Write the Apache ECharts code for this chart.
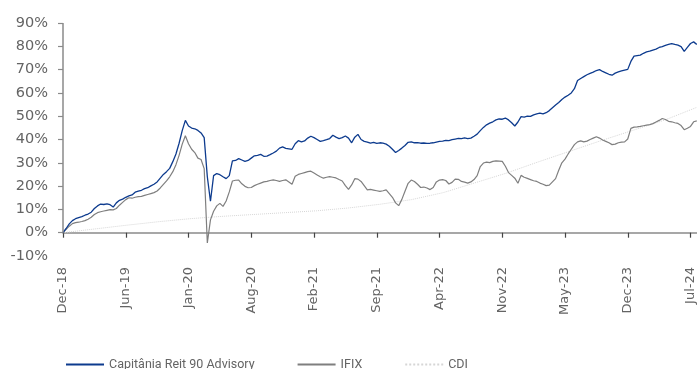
<!DOCTYPE html>
<html>
<head>
<meta charset="utf-8">
<script src="https://cdn.jsdelivr.net/npm/echarts@6/dist/echarts.min.js"></script>
<style>
  html, body { margin: 0; padding: 0; background: #fff; }
  #chart { width: 697px; height: 369px; }
</style>
</head>
<body>
<div id="chart"></div>
<script>
// Axis tick labels (one per tick step on the horizontal axis)
const tickLabels = ['Dec-18', 'Jun-19', 'Jan-20', 'Aug-20', 'Feb-21', 'Sep-21',
                    'Apr-22', 'Nov-22', 'May-23', 'Dec-23', 'Jul-24'];

// Horizontal extent in tick steps and sample spacing
const X_MAX = 10.1;
const STEP = 0.05;         // fund and IFIX samples
const CDI_STEP = 0.505;    // CDI samples

const seriesNames = ['Capitânia Reit 90 Advisory', 'IFIX', 'CDI'];

// Cumulative return (%) - Capitânia Reit 90 Advisory
const fund = [
  0, 1.8, 3.8, 5.2, 6.0, 6.5, 6.9, 7.5, 8.0, 8.8,
  10.4, 11.5, 12.3, 12.1, 12.4, 12.0, 11.0, 12.8, 13.9, 14.4,
  15.2, 15.8, 16.2, 17.4, 17.8, 18.2, 18.9, 19.3, 20.1, 20.8,
  21.8, 23.4, 25.0, 26.2, 27.6, 30.5, 33.8, 38.4, 43.8, 48.2,
  45.8, 44.9, 44.6, 43.9, 42.8, 40.8, 24.0, 13.5, 24.5, 25.4,
  24.9, 24.0, 23.2, 24.5, 30.8, 31.0, 31.8, 31.2, 30.6, 31.0,
  32.0, 33.0, 33.2, 33.6, 32.8, 32.9, 33.5, 34.2, 35.0, 36.3,
  36.8, 36.2, 36.0, 35.8, 38.2, 39.5, 39.0, 39.4, 40.6, 41.4,
  40.8, 40.0, 39.2, 39.5, 39.9, 40.4, 41.8, 41.0, 40.4, 40.8,
  41.5, 40.6, 38.6, 41.0, 42.2, 40.0, 39.2, 38.9, 38.4, 38.8,
  38.3, 38.6, 38.4, 38.0, 37.1, 35.8, 34.4, 35.3, 36.3, 37.4,
  38.8, 39.0, 38.6, 38.7, 38.4, 38.5, 38.3, 38.4, 38.6, 38.9,
  39.2, 39.3, 39.6, 39.5, 39.9, 40.2, 40.5, 40.4, 40.7, 40.4,
  40.6, 41.4, 42.3, 43.8, 45.2, 46.3, 47.0, 47.6, 48.4, 48.8,
  48.7, 49.2, 48.4, 47.2, 45.8, 47.5, 49.8, 49.6, 50.0, 49.9,
  50.6, 51.0, 51.3, 51.0, 51.5, 52.4, 53.6, 54.8, 55.9, 57.2,
  58.2, 59.0, 60.0, 61.8, 65.3, 66.2, 67.0, 67.8, 68.4, 68.9,
  69.6, 70.0, 69.2, 68.6, 68.0, 67.6, 68.5, 69.0, 69.4, 69.8,
  70.1, 73.5, 75.8, 76.0, 76.2, 77.0, 77.6, 77.9, 78.4, 78.8,
  79.5, 79.9, 80.4, 80.8, 81.2, 80.8, 80.5, 79.9, 77.8, 79.5,
  81.2, 81.9, 80.8
];

// Cumulative return (%) - IFIX
const ifix = [
  0, 1.5, 2.8, 3.9, 4.3, 4.5, 4.8, 5.2, 5.8, 6.6,
  7.8, 8.6, 9.0, 9.3, 9.6, 9.9, 9.8, 10.4, 11.8, 13.0,
  14.2, 15.0, 14.8, 15.2, 15.5, 15.6, 16.0, 16.4, 16.8, 17.2,
  17.9, 19.2, 20.7, 22.2, 24.0, 26.2, 29.2, 33.2, 38.0, 41.6,
  38.2, 35.8, 34.4, 32.0, 31.4, 27.5, -4.4, 5.5, 9.2, 11.5,
  12.6, 11.3, 13.6, 17.5, 22.2, 22.5, 22.6, 21.0, 19.9, 19.3,
  19.4, 20.2, 20.8, 21.3, 21.8, 22.0, 22.4, 22.7, 22.4, 22.0,
  22.4, 22.7, 21.8, 20.8, 24.2, 25.0, 25.4, 25.8, 26.2, 26.4,
  25.6, 24.8, 24.0, 23.4, 23.8, 24.1, 23.8, 23.5, 22.8, 22.2,
  20.2, 18.6, 20.5, 23.2, 23.0, 22.0, 20.2, 18.4, 18.6, 18.3,
  18.0, 17.7, 18.0, 18.4, 16.8, 15.2, 12.8, 11.6, 14.3, 17.8,
  21.2, 22.6, 22.0, 20.8, 19.4, 19.6, 19.2, 18.5, 19.4, 21.8,
  22.6, 22.8, 22.4, 20.9, 21.6, 23.0, 22.9, 22.0, 21.7, 21.3,
  21.8, 22.8, 24.5, 28.4, 29.9, 30.3, 30.1, 30.6, 30.8, 30.7,
  30.6, 28.5, 25.8, 24.6, 23.4, 21.2, 24.6, 23.8, 23.3, 22.8,
  22.3, 22.0, 21.3, 20.8, 20.2, 20.4, 21.8, 23.2, 26.8, 30.0,
  31.6, 33.8, 35.8, 37.8, 39.0, 39.4, 39.0, 39.3, 40.0, 40.6,
  41.2, 40.6, 39.8, 39.2, 38.6, 37.8, 38.0, 38.6, 38.9, 39.0,
  40.2, 44.8, 45.3, 45.4, 45.6, 45.9, 46.2, 46.4, 46.8, 47.5,
  48.2, 49.0, 48.6, 47.8, 47.6, 47.2, 46.9, 46.0, 44.2, 44.8,
  45.6, 47.6, 48.0
];

// Cumulative return (%) - CDI
const cdi = [
  0, 1.6, 3.2, 4.7, 6.0, 7.0, 7.8, 8.6, 9.4, 10.6,
  12.2, 14.2, 17.2, 21.4, 25.6, 30.4, 35.0, 39.6, 44.0, 48.4,
  53.8
];

const toPairs = (vals, step) => vals.map((v, i) => [+(i * step).toFixed(4), v]);

const textGrey = '#646464';
const axisGrey = '#8a8a8a';
const tickValues = tickLabels.map((_, i) => i);

const chart = echarts.init(document.getElementById('chart'), null, { renderer: 'canvas' });

chart.setOption({
  animation: false,
  backgroundColor: '#ffffff',
  grid: { left: 63, right: 0, top: 23, bottom: 113, containLabel: false },
  xAxis: {
    type: 'value',
    min: 0,
    max: X_MAX,
    interval: 1,
    axisLine: { show: true, onZero: true, lineStyle: { color: axisGrey, width: 1.5 } },
    axisTick: { show: true, length: 5, customValues: tickValues,
                lineStyle: { color: '#444', width: 1.2 } },
    splitLine: { show: false },
    axisLabel: {
      rotate: 90,
      margin: 11,
      color: textGrey,
      fontFamily: 'DejaVu Sans',
      fontSize: 13,
      customValues: tickValues,
      formatter: v => tickLabels[Math.round(v)] || ''
    }
  },
  yAxis: {
    type: 'value',
    min: -10,
    max: 90,
    interval: 10,
    axisLine: { show: false },
    axisTick: { show: true, length: 5, customValues: [0, 10, 20, 30, 40, 50, 60, 70, 80, 90],
                lineStyle: { color: axisGrey, width: 1.2 } },
    splitLine: { show: false },
    axisLabel: {
      margin: 15,
      color: textGrey,
      fontFamily: 'DejaVu Sans',
      fontSize: 14.5,
      formatter: '{value}%'
    }
  },
  legend: {
    data: seriesNames,
    left: 60,
    top: 353,
    itemWidth: 38,
    itemHeight: 14,
    itemGap: 42,
    itemStyle: { opacity: 0 },
    textStyle: {
      color: textGrey,
      fontFamily: 'Roboto',
      fontSize: 12.5
    }
  },
  series: [
    {
      name: seriesNames[2],
      type: 'line',
      data: toPairs(cdi, CDI_STEP),
      symbol: 'none',
      z: 1,
      lineStyle: { color: '#d6d6d6', width: 1, type: 'dotted' },
      itemStyle: { color: '#d6d6d6' },
      // vertical axis line drawn only over the 0%..90% span
      markLine: {
        silent: true,
        symbol: 'none',
        label: { show: false },
        lineStyle: { color: axisGrey, width: 1.5, type: 'solid' },
        data: [[{ coord: [0, 0] }, { coord: [0, 90] }]]
      }
    },
    {
      name: seriesNames[1],
      type: 'line',
      data: toPairs(ifix, STEP),
      symbol: 'none',
      z: 2,
      lineStyle: { color: '#7f7f7f', width: 1.2 },
      itemStyle: { color: '#7f7f7f' }
    },
    {
      name: seriesNames[0],
      type: 'line',
      data: toPairs(fund, STEP),
      symbol: 'none',
      z: 3,
      lineStyle: { color: '#0d3b8e', width: 1.3 },
      itemStyle: { color: '#0d3b8e' }
    }
  ]
});
</script>
</body>
</html>
